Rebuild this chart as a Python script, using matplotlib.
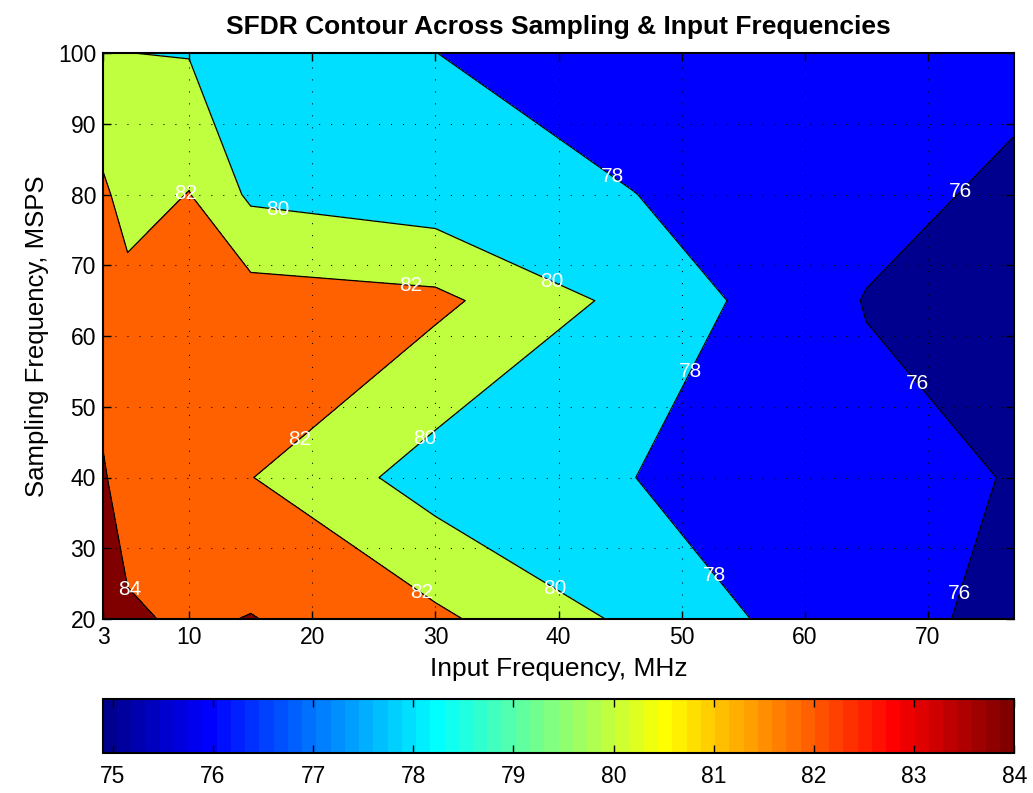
import numpy as np
import matplotlib
matplotlib.use('Agg')
import matplotlib.pyplot as plt
from matplotlib.colors import ListedColormap, Normalize
from matplotlib.cm import ScalarMappable

plt.rcParams['font.family'] = ['Liberation Sans', 'DejaVu Sans']

# Сетка измерений
f_in = [3, 5, 10, 15, 30, 46, 65, 77]      # входная частота, МГц
f_s = [20, 40, 65, 80, 100]                # частота дискретизации, MSPS

# SFDR, дБ (по строкам - частота дискретизации)
sfdr_20 = [84.60, 84.29, 83.68, 84.08, 82.38, 79.62, 76.41, 75.70]
sfdr_40 = [84.21, 83.00, 83.10, 82.05, 79.10, 78.02, 76.66, 75.91]
sfdr_65 = [82.86, 82.68, 83.00, 82.85, 82.46, 79.42, 75.91, 74.90]
sfdr_80 = [82.38, 81.18, 82.06, 79.65, 78.84, 78.03, 76.71, 75.56]
sfdr_100 = [80.05, 80.01, 79.91, 79.20, 78.01, 77.03, 76.80, 76.63]

levels = [76, 78, 80, 82, 84]
x_ticks = [3, 10, 20, 30, 40, 50, 60, 70]
y_ticks = [20, 30, 40, 50, 60, 70, 80, 90, 100]
cbar_ticks = [75, 76, 77, 78, 79, 80, 81, 82, 83, 84]

# где стоят подписи изолиний
label_xy = [(5.3, 24.4), (9.7, 80.2), (17.2, 77.8), (28.0, 67.1), (39.5, 67.8),
            (44.4, 82.6), (72.8, 80.2), (50.6, 55.1), (69.2, 53.4), (18.8, 45.7),
            (29.1, 45.6), (52.7, 26.2), (39.7, 24.4), (28.9, 23.8), (72.5, 23.7)]


def matlab_jet(m=64):
    # палитра jet как в MATLAB
    n = int(np.ceil(m / 4))
    u = np.concatenate([np.arange(1, n + 1) / n, np.ones(n - 1), np.arange(n, 0, -1) / n])
    g = int(np.ceil(n / 2)) - (1 if m % 4 == 1 else 0) + np.arange(1, len(u) + 1)
    r = g + n
    b = g - n
    g = g[g <= m]
    r = r[r <= m]
    b = b[b >= 1]
    J = np.zeros((m, 3))
    J[r - 1, 0] = u[:len(r)]
    J[g - 1, 1] = u[:len(g)]
    J[b - 1, 2] = u[len(u) - len(b):]
    return J


X, Y = np.meshgrid(f_in, f_s)
Z = np.array([sfdr_20, sfdr_40, sfdr_65, sfdr_80, sfdr_100])

cmap = ListedColormap(matlab_jet(64))
norm = Normalize(vmin=Z.min(), vmax=max(levels))

fill_levels = [Z.min()] + levels + [Z.max()]
fill_colors = [cmap(norm(v)) for v in fill_levels[:-1]]

fig = plt.figure(figsize=(10.33, 7.93), dpi=100)
ax = fig.add_axes([103 / 1033, 1 - 619 / 793, 911 / 1033, 566 / 793])

ax.contourf(X, Y, Z, levels=fill_levels, colors=fill_colors)
cs = ax.contour(X, Y, Z, levels=levels, colors='k', linewidths=0.9)
labels = ax.clabel(cs, levels, inline=False, fmt='%d', colors='white',
                   fontsize=15, manual=label_xy)
for t in labels:
    t.set_rotation(0)

ax.set_xlim(3, 77)
ax.set_ylim(20, 100)
ax.set_xticks(x_ticks)
ax.set_yticks(y_ticks)
ax.set_axisbelow(False)
ax.grid(True, color='k', linestyle=(0, (1, 10.5)), linewidth=0.75)
ax.tick_params(direction='in', top=True, right=True, length=6, width=1,
               labelsize=16.5, pad=5)
for s in ax.spines.values():
    s.set_linewidth(1.5)

ax.set_title('SFDR Contour Across Sampling & Input Frequencies',
             fontsize=19, fontweight='bold', pad=14)
ax.set_xlabel('Input Frequency, MHz', fontsize=19, labelpad=6)
ax.set_ylabel('Sampling Frequency, MSPS', fontsize=18.5, labelpad=6)

# Цветовая шкала
cax = fig.add_axes([102.7 / 1033, 1 - 752.7 / 793, 911.6 / 1033, 53.7 / 793])
cb = fig.colorbar(ScalarMappable(norm=norm, cmap=cmap), cax=cax,
                  orientation='horizontal')
cb.set_ticks(cbar_ticks)
cb.outline.set_linewidth(1.5)
cax.tick_params(axis='x', direction='in', top=True, bottom=True, length=6,
                width=1, labelsize=16.5, pad=9)

fig.savefig('out.png', dpi=100)
